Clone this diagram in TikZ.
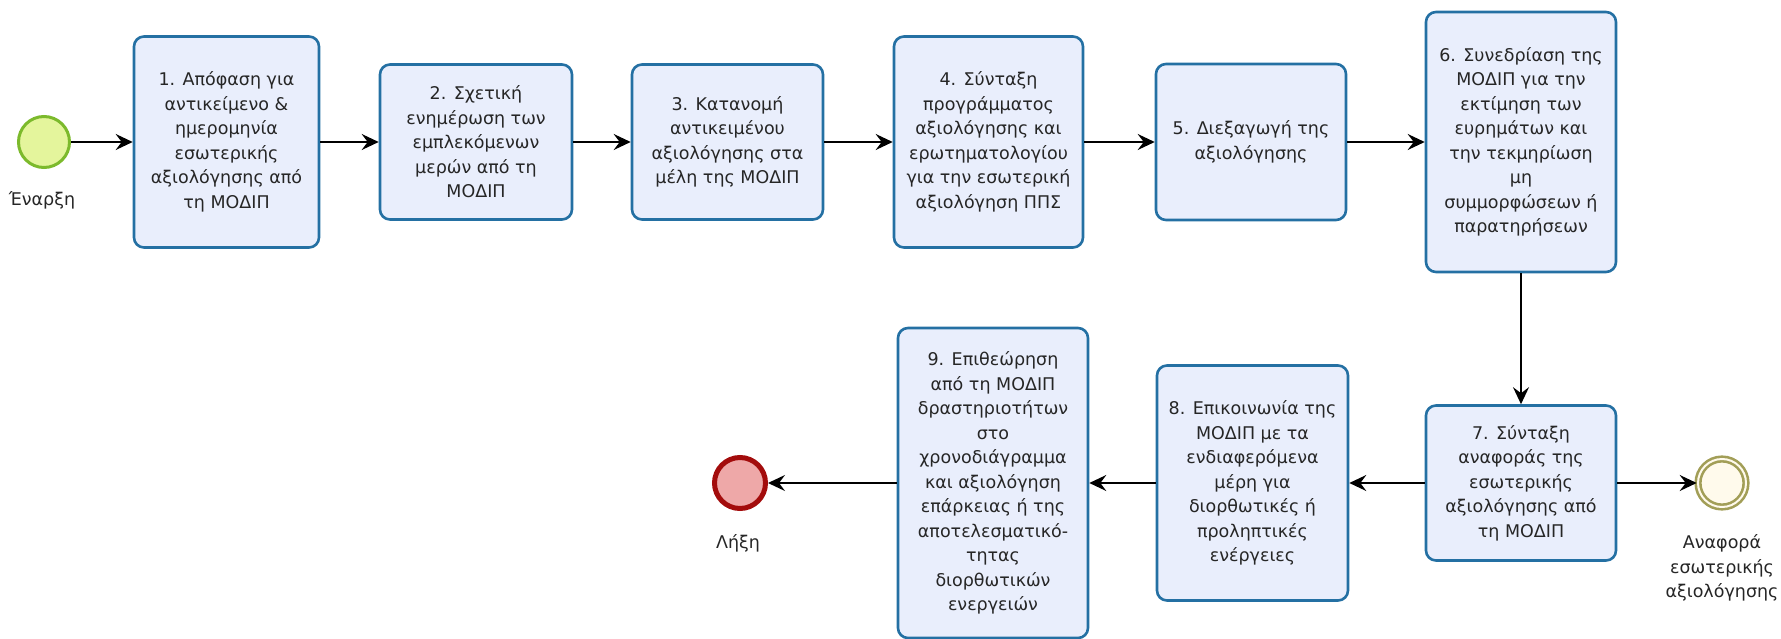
\documentclass[tikz,border=0pt]{standalone}
\usepackage{fontspec}
\setmainfont{DejaVu Sans}
\usetikzlibrary{arrows.meta}

\definecolor{taskfill}{HTML}{E9EEFC}
\definecolor{taskline}{HTML}{2470A3}
\definecolor{startfill}{HTML}{E4F59C}
\definecolor{startline}{HTML}{7CBA2C}
\definecolor{endfill}{HTML}{EEA8A8}
\definecolor{endline}{HTML}{A30C0C}
\definecolor{repfill}{HTML}{FFFAEC}
\definecolor{repline}{HTML}{A29E57}
\definecolor{txt}{HTML}{262626}

\tikzset{
  lbl/.style={font=\fontsize{17.5}{24.5}\selectfont, text=txt, align=center, inner sep=0pt},
  task/.style={lbl, draw=taskline, fill=taskfill, line width=2.6pt,
               rounded corners=10pt, minimum width=#1},
  task/.default=190pt,
  startev/.style={circle, draw=startline, fill=startfill, line width=3pt,
                  minimum size=51pt, inner sep=0pt},
  endev/.style={circle, draw=endline, fill=endfill, line width=5pt,
                minimum size=51pt, inner sep=0pt},
  repev/.style={circle, draw=repline, fill=repfill, line width=2.6pt,
                double=repfill, double distance=2pt,
                minimum size=48pt, inner sep=0pt},
  flow/.style={line width=1.8pt, draw=black,
               -{Stealth[length=17pt, width=16pt, inset=6pt]}}
}

\begin{document}
\begin{tikzpicture}[x=1pt, y=-1pt]
  \useasboundingbox (0,0) rectangle (1781,639);

  % events
  \node[startev] (start) at (44,142) {};
  \node[lbl] (lstart) at (42,200) {Έναρξη};
  \node[endev] (end) at (740,483) {};
  \node[lbl] (lend) at (738,543) {Λήξη};
  \node[repev] (rep) at (1722,483) {};
  \node[lbl] (lrep) at (1722,568) {Αναφορά\\εσωτερικής\\αξιολόγησης};

  % upper row of tasks
  \node[task=185pt, minimum height=211pt] (b1) at (226.5,142)
    {1. Απόφαση για\\αντικείμενο \&\\ημερομηνία\\εσωτερικής\\αξιολόγησης από\\τη ΜΟΔΙΠ};
  \node[task=192pt, minimum height=155pt] (b2) at (476,142)
    {2. Σχετική\\ενημέρωση των\\εμπλεκόμενων\\μερών από τη\\ΜΟΔΙΠ};
  \node[task=191pt, minimum height=155pt] (b3) at (727.5,142)
    {3. Κατανομή\\αντικειμένου\\αξιολόγησης στα\\μέλη της ΜΟΔΙΠ};
  \node[task=189pt, minimum height=211pt] (b4) at (988.5,142)
    {4. Σύνταξη\\προγράμματος\\αξιολόγησης και\\ερωτηματολογίου\\για την εσωτερική\\αξιολόγηση ΠΠΣ};
  \node[task=190pt, minimum height=156pt] (b5) at (1251,142)
    {5. Διεξαγωγή της\\αξιολόγησης};
  \node[task=190pt, minimum height=260pt] (b6) at (1521,142)
    {6. Συνεδρίαση της\\ΜΟΔΙΠ για την\\εκτίμηση των\\ευρημάτων και\\την τεκμηρίωση\\μη\\συμμορφώσεων ή\\παρατηρήσεων};

  % lower row of tasks
  \node[task=190pt, minimum height=155pt] (b7) at (1521,483)
    {7. Σύνταξη\\αναφοράς της\\εσωτερικής\\αξιολόγησης από\\τη ΜΟΔΙΠ};
  \node[task=191pt, minimum height=235pt] (b8) at (1252.5,483)
    {8. Επικοινωνία της\\ΜΟΔΙΠ με τα\\ενδιαφερόμενα\\μέρη για\\διορθωτικές ή\\προληπτικές\\ενέργειες};
  \node[task=190pt, minimum height=310pt] (b9) at (993,483)
    {9. Επιθεώρηση\\από τη ΜΟΔΙΠ\\δραστηριοτήτων\\στο\\χρονοδιάγραμμα\\και αξιολόγηση\\επάρκειας ή της\\αποτελεσματικό-\\τητας\\διορθωτικών\\ενεργειών};

  % sequence flows
  \draw[flow] (start) -- (b1);
  \draw[flow] (b1) -- (b2);
  \draw[flow] (b2) -- (b3);
  \draw[flow] (b3) -- (b4);
  \draw[flow] (b4) -- (b5);
  \draw[flow] (b5) -- (b6);
  \draw[flow] (b6) -- (b7);
  \draw[flow] (b7) -- (rep);
  \draw[flow] (b7) -- (b8);
  \draw[flow] (b8) -- (b9);
  \draw[flow] (b9) -- (end);
\end{tikzpicture}
\end{document}
